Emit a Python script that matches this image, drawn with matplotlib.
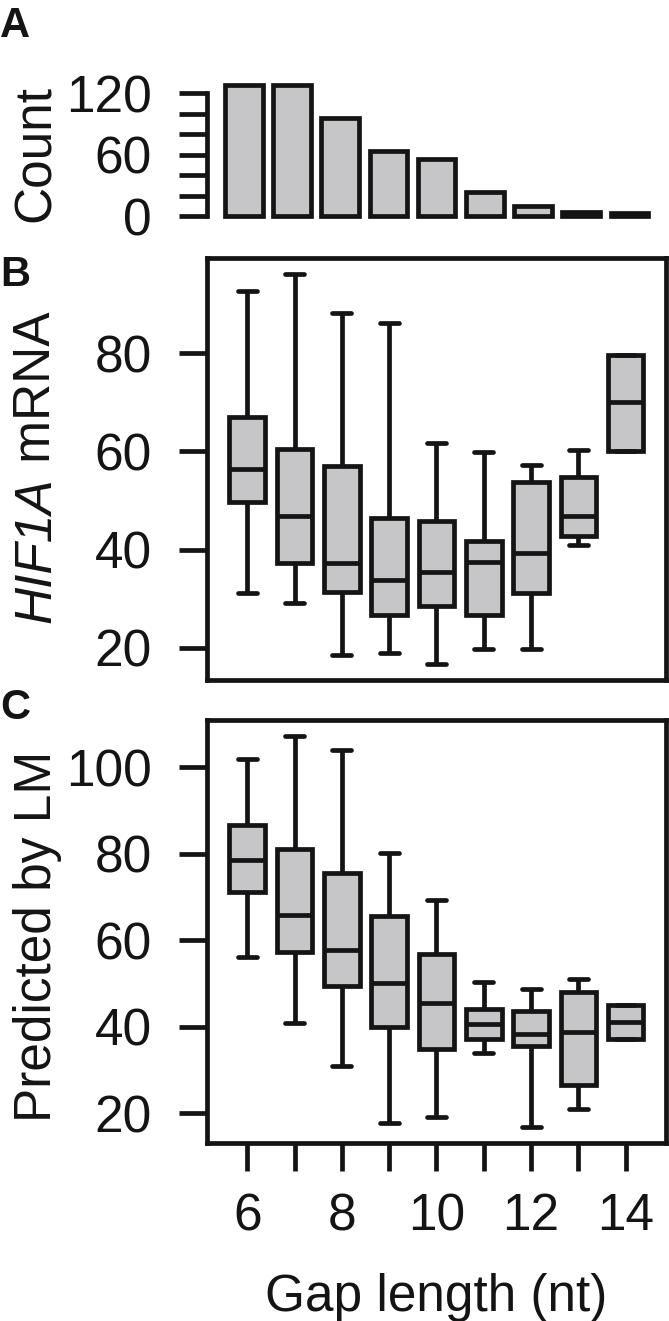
import matplotlib
matplotlib.use('Agg')
import matplotlib.pyplot as plt

plt.rcParams['font.family'] = ['Liberation Sans', 'DejaVu Sans']

# ---------------- data ----------------
gap_lengths = [6, 7, 8, 9, 10, 11, 12, 13, 14]
counts = [128, 128, 96, 64, 56, 24, 10, 4, 3]

hif_low = [31.2, 29.1, 18.4, 18.9, 16.7, 19.8, 19.7, 40.9, 60.0]
hif_q1 = [49.8, 37.3, 31.3, 26.7, 28.4, 26.7, 31.1, 42.8, 60.0]
hif_med = [56.4, 46.9, 37.3, 33.8, 35.4, 37.5, 39.2, 46.9, 70.0]
hif_q3 = [67.0, 60.6, 57.0, 46.4, 45.8, 41.8, 53.8, 54.7, 79.7]
hif_high = [92.7, 96.3, 88.3, 86.3, 61.7, 59.8, 57.2, 60.4, 79.7]

lm_low = [56.2, 40.9, 30.9, 17.7, 19.1, 33.9, 16.9, 20.9, 37.3]
lm_q1 = [71.2, 57.4, 49.5, 39.9, 34.8, 37.3, 35.6, 26.5, 37.3]
lm_med = [78.6, 65.9, 57.8, 50.2, 45.6, 40.6, 38.3, 38.7, 41.0]
lm_q3 = [86.7, 81.0, 75.6, 65.6, 56.8, 44.2, 43.7, 48.1, 45.0]
lm_high = [101.9, 107.3, 104.0, 80.1, 69.3, 50.4, 48.7, 51.0, 45.0]

count_ticks = [0, 20, 40, 60, 80, 100, 120]
count_ticklabels = ['0', '', '', '60', '', '', '120']
hif_ticks = [20, 40, 60, 80]
lm_ticks = [20, 40, 60, 80, 100]
x_ticklabels = ['6', '', '8', '', '10', '', '12', '', '14']

# ---------------- style ----------------
INK = '#141414'
FILL = '#c6c6c8'
LW = 3.4
FS = 37
TICKLEN = 20.5
TICKPAD = 19

W, H = 669, 1321
fig = plt.figure(figsize=(W / 100, H / 100), dpi=100)


def frac(l, t, r, b):
    return [l / W, 1 - b / H, (r - l) / W, (b - t) / H]


# ---------------- panel A ----------------
axA = fig.add_axes(frac(206.5, 83.05, 666.4, 216.3))
axA.bar(range(len(counts)), counts, width=0.78, color=FILL, edgecolor=INK,
        linewidth=LW, clip_on=False)
axA.set_xlim(-0.775, 8.77)
axA.set_ylim(0, 130)
for s in ['top', 'right', 'bottom']:
    axA.spines[s].set_visible(False)
axA.spines['left'].set_bounds(0, 120)
axA.spines['left'].set_linewidth(LW)
axA.spines['left'].set_color(INK)
axA.set_xticks([])
axA.set_yticks(count_ticks)
axA.set_yticklabels(count_ticklabels)
axA.tick_params(axis='y', length=TICKLEN, width=LW, pad=TICKPAD,
                labelsize=FS, color=INK, labelcolor=INK)
axA.patch.set_alpha(0)


def box_panel(ax, low, q1, med, q3, high, ylim, yticks):
    stats = []
    for i in range(len(low)):
        stats.append(dict(whislo=low[i], q1=q1[i], med=med[i], q3=q3[i],
                          whishi=high[i], fliers=[]))
    lp = dict(color=INK, linewidth=LW, solid_capstyle='butt')
    ax.bxp(stats, positions=range(1, len(low) + 1), widths=0.75,
           capwidths=0.4, patch_artist=True, showfliers=False,
           boxprops=dict(facecolor=FILL, edgecolor=INK, linewidth=LW),
           medianprops=lp, whiskerprops=lp,
           capprops=dict(color=INK, linewidth=LW, solid_capstyle='round'))
    ax.set_xlim(0.14, 9.86)
    ax.set_ylim(*ylim)
    ax.set_yticks(yticks)
    ax.set_yticklabels([str(t) for t in yticks])
    for s in ax.spines.values():
        s.set_linewidth(LW)
        s.set_color(INK)
    ax.tick_params(axis='y', length=TICKLEN, width=LW, pad=TICKPAD,
                   labelsize=FS, color=INK, labelcolor=INK)


# ---------------- panel B ----------------
axB = fig.add_axes(frac(206.5, 258.3, 666.4, 680))
box_panel(axB, hif_low, hif_q1, hif_med, hif_q3, hif_high, (13.4, 99.4), hif_ticks)
axB.set_xticks([])

# ---------------- panel C ----------------
axC = fig.add_axes(frac(206.5, 720, 666.4, 1142.8))
box_panel(axC, lm_low, lm_q1, lm_med, lm_q3, lm_high, (13.2, 110.9), lm_ticks)
axC.set_xticks(range(1, len(gap_lengths) + 1))
axC.set_xticklabels(x_ticklabels)
axC.tick_params(axis='x', length=TICKLEN, width=LW, pad=15,
                labelsize=FS, color=INK, labelcolor=INK)

# ---------------- labels ----------------
def ylab(x, y, s):
    fig.text(x / W, 1 - y / H, s, rotation=90, ha='center', va='center',
             fontsize=FS, color=INK)

ylab(36, 153, 'Count')
ylab(38, 936, 'Predicted by LM')

# HIF1A (italic) + mRNA, stacked along the rotated baseline
xl = 37 / W
t1 = fig.text(xl, 0, 'HIF1A', rotation=90, ha='center', va='bottom',
              fontsize=FS, style='italic', color=INK)
t2 = fig.text(xl, 0, ' mRNA', rotation=90, ha='center', va='bottom',
              fontsize=FS, color=INK)
renderer = fig.canvas.get_renderer()
h1 = t1.get_window_extent(renderer).height
h2 = t2.get_window_extent(renderer).height
yc = H - 467
start = yc - (h1 + h2) / 2
t1.set_position((xl, start / H))
t2.set_position((xl, (start + h1) / H))

fig.text(436 / W, 1 - 1297 / H, 'Gap length (nt)', ha='center', va='center',
         fontsize=FS, color=INK)

for lab, yb in [('A', 37), ('B', 286), ('C', 719)]:
    fig.text(0.0, 1 - yb / H, lab, ha='left', va='baseline',
             fontsize=30, fontweight='bold', color=INK)

fig.savefig('out.png', dpi=100)
